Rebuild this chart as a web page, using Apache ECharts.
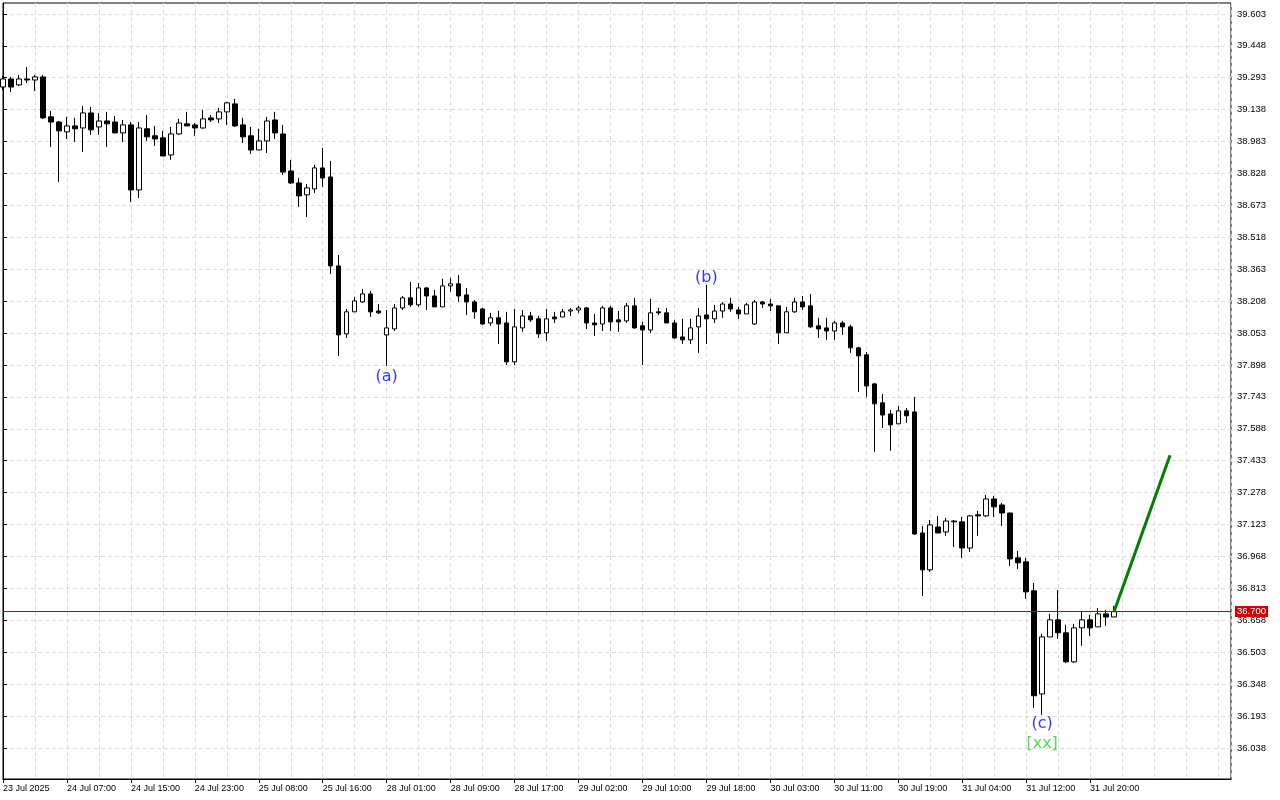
<!DOCTYPE html>
<html><head><meta charset="utf-8">
<script src="https://cdn.jsdelivr.net/npm/echarts@6/dist/echarts.min.js"></script>
<style>html,body{margin:0;padding:0;background:#fff}#c{width:1280px;height:800px}</style>
</head><body><div id="c"></div>
<script>
// ---- data (H1 candles, index 0 = 23 Jul 22:00) ----
const xTickLabels = ['23 Jul 2025','24 Jul 07:00','24 Jul 15:00','24 Jul 23:00','25 Jul 08:00','25 Jul 16:00',
  '28 Jul 01:00','28 Jul 09:00','28 Jul 17:00','29 Jul 02:00','29 Jul 10:00','29 Jul 18:00',
  '30 Jul 03:00','30 Jul 11:00','30 Jul 19:00','31 Jul 04:00','31 Jul 12:00','31 Jul 20:00'];
const yTickLabels = ['36.038','36.193','36.348','36.503','36.658','36.813','36.968','37.123','37.278','37.433',
  '37.588','37.743','37.898','38.053','38.208','38.363','38.518','38.673','38.828','38.983',
  '39.138','39.293','39.448','39.603'];
const opens = [
 39.248,39.287,39.258,39.287,39.282,39.297,39.103,39.078,39.030,39.059,
 39.049,39.122,39.054,39.083,39.078,39.025,39.064,38.748,39.045,39.011,
 39.001,38.918,39.020,39.069,39.064,39.049,39.098,39.093,39.127,39.166,
 39.064,39.011,38.942,38.986,39.088,39.020,38.840,38.782,38.724,38.753,
 38.855,38.811,38.379,38.049,38.156,38.204,38.243,38.160,38.044,38.073,
 38.175,38.224,38.190,38.272,38.233,38.180,38.282,38.292,38.238,38.204,
 38.170,38.102,38.127,38.102,37.913,38.078,38.136,38.122,38.054,38.131,
 38.131,38.160,38.165,38.175,38.102,38.097,38.175,38.117,38.112,38.185,
 38.088,38.068,38.156,38.151,38.102,38.034,38.020,38.083,38.141,38.122,
 38.160,38.194,38.165,38.146,38.097,38.204,38.194,38.185,38.054,38.156,
 38.204,38.185,38.088,38.078,38.063,38.102,38.083,37.981,37.947,37.806,
 37.714,37.660,37.612,37.675,37.670,37.082,36.903,37.111,37.087,37.140,
 37.136,37.009,37.170,37.165,37.247,37.218,37.179,36.961,36.942,36.801,
 36.300,36.577,36.660,36.597,36.456,36.621,36.660,36.626,36.689,36.674];
const closes = [
 39.287,39.248,39.287,39.282,39.297,39.098,39.078,39.035,39.059,39.045,
 39.122,39.040,39.083,39.069,39.025,39.064,38.748,39.049,39.006,38.996,
 38.913,39.020,39.073,39.059,39.049,39.093,39.088,39.127,39.171,39.059,
 39.006,38.942,38.986,39.083,39.025,38.835,38.782,38.719,38.758,38.855,
 38.806,38.379,38.044,38.156,38.209,38.243,38.156,38.151,38.078,38.175,
 38.224,38.190,38.272,38.233,38.180,38.282,38.292,38.233,38.204,38.156,
 38.097,38.127,38.097,37.913,38.083,38.136,38.117,38.049,38.122,38.122,
 38.156,38.165,38.175,38.102,38.093,38.175,38.107,38.107,38.185,38.078,
 38.068,38.151,38.151,38.102,38.029,38.020,38.078,38.136,38.122,38.160,
 38.194,38.170,38.146,38.190,38.204,38.194,38.185,38.054,38.156,38.204,
 38.180,38.083,38.073,38.063,38.102,38.083,37.981,37.942,37.796,37.709,
 37.655,37.607,37.675,37.651,37.077,36.903,37.121,37.082,37.140,37.136,
 37.009,37.165,37.165,37.247,37.209,37.179,36.956,36.937,36.796,36.291,
 36.577,36.660,36.597,36.456,36.621,36.660,36.621,36.689,36.674,36.700];
const lows = [
 39.234,39.224,39.253,39.268,39.229,39.093,38.957,38.787,38.996,38.981,
 38.933,39.015,39.015,38.957,39.025,38.981,38.690,38.709,38.986,38.962,
 38.913,38.894,39.015,39.059,39.011,39.045,39.078,39.073,39.064,39.054,
 38.976,38.923,38.942,38.928,38.996,38.821,38.777,38.666,38.617,38.734,
 38.763,38.340,37.942,38.029,38.156,38.199,38.131,38.146,37.893,38.063,
 38.165,38.180,38.180,38.165,38.180,38.180,38.253,38.204,38.141,38.122,
 38.093,38.088,38.000,37.898,37.898,38.059,38.107,38.029,38.015,38.102,
 38.131,38.136,38.151,38.073,38.039,38.063,38.063,38.059,38.102,38.073,
 37.898,38.054,38.141,38.102,38.025,38.000,38.000,37.957,38.000,38.102,
 38.127,38.156,38.122,38.146,38.093,38.175,38.160,38.000,38.054,38.151,
 38.165,38.078,38.029,38.020,38.020,38.044,37.957,37.767,37.743,37.476,
 37.592,37.481,37.612,37.617,37.073,36.776,36.893,37.082,37.068,37.014,
 36.961,36.990,37.068,37.160,37.160,37.116,36.922,36.907,36.762,36.232,
 36.198,36.577,36.567,36.451,36.451,36.534,36.582,36.626,36.631,36.674];
const highs = [
 39.302,39.297,39.307,39.345,39.307,39.307,39.132,39.083,39.103,39.098,
 39.156,39.151,39.122,39.127,39.107,39.088,39.078,39.078,39.112,39.059,
 39.035,39.054,39.093,39.127,39.073,39.137,39.112,39.146,39.176,39.190,
 39.098,39.054,39.045,39.103,39.127,39.064,38.894,38.806,38.777,38.870,
 38.952,38.889,38.432,38.170,38.229,38.267,38.258,38.194,38.165,38.194,
 38.233,38.301,38.296,38.277,38.262,38.316,38.321,38.335,38.272,38.214,
 38.175,38.151,38.161,38.156,38.170,38.165,38.156,38.136,38.170,38.156,
 38.170,38.175,38.185,38.180,38.146,38.185,38.185,38.160,38.199,38.224,
 38.107,38.219,38.175,38.175,38.117,38.122,38.122,38.175,38.287,38.190,
 38.204,38.224,38.180,38.199,38.214,38.209,38.219,38.185,38.180,38.224,
 38.233,38.243,38.127,38.127,38.112,38.112,38.093,37.986,37.961,37.811,
 37.757,37.680,37.699,37.689,37.743,37.116,37.145,37.165,37.155,37.145,
 37.160,37.170,37.189,37.267,37.262,37.228,37.179,36.995,36.961,36.839,
 36.592,36.689,36.805,36.636,36.640,36.703,36.684,36.718,36.708,36.728];
const lastPrice = 36.700;
const projX = [139, 146];
const projY = [36.700, 37.460];
const waveText = ['(a)', '(b)', '(c)', '[xx]'];
const waveIndex = [48, 88, 130, 130];
const waveSide = ['low', 'high', 'low', 'low'];

// ---- build ----
const FONT = 'Liberation Sans';
const candleData = opens.map((o, i) => [i, o, closes[i], lows[i], highs[i]]);
const xTickValues = xTickLabels.map((_, k) => k * 8);
const yTickValues = yTickLabels.map(Number);
const waveStyles = [
  {color: '#0000ff', position: 'bottom', distance: 2},
  {color: '#0000ff', position: 'top', distance: -1},
  {color: '#0000ff', position: 'bottom', distance: 0},
  {color: '#32cd32', position: 'bottom', distance: 20}
];
const waveData = waveText.map((t, k) => {
  const i = waveIndex[k];
  const p = waveSide[k] === 'low' ? lows[i] : highs[i];
  return {
    value: [i, p],
    label: Object.assign({show: true, formatter: t, fontFamily: 'DejaVu Sans', fontSize: 16}, waveStyles[k])
  };
});

const chart = echarts.init(document.getElementById('c'), null, {renderer: 'canvas'});
chart.setOption({
  animation: false,
  backgroundColor: '#fff',
  grid: {left: 2, right: 49, top: 3, bottom: 21, show: true, borderColor: '#000', borderWidth: 1, backgroundColor: '#fff'},
  xAxis: [
    {type: 'value', min: 0, max: 153.625, interval: 4,
     axisLine: {show: true, lineStyle: {color: '#000'}}, axisTick: {show: false}, axisLabel: {show: false},
     splitLine: {show: true, lineStyle: {color: '#dcdcdc', type: [4, 3], width: 1}}},
    {type: 'value', min: 0, max: 153.625, position: 'bottom',
     axisLine: {show: false},
     axisTick: {show: true, length: 4, lineStyle: {color: '#000'}, customValues: xTickValues},
     axisLabel: {show: true, customValues: xTickValues, align: 'left', margin: 5, color: '#000',
       fontFamily: FONT, fontSize: 9, formatter: v => xTickLabels[Math.round(v / 8)] || ''},
     splitLine: {show: false}}
  ],
  yAxis: {
    type: 'value', position: 'right', min: 35.887, max: 39.656, scale: true,
    axisLine: {show: true, lineStyle: {color: '#000', width: 1}},
    axisTick: {show: true, length: 4, lineStyle: {color: '#000'}, customValues: yTickValues},
    axisLabel: {show: true, customValues: yTickValues, margin: 6, color: '#000', fontFamily: FONT, fontSize: 9.5,
      formatter: v => { const k = yTickValues.findIndex(t => Math.abs(t - v) < 1e-6); return k >= 0 ? yTickLabels[k] : ''; }},
    splitLine: {show: true, lineStyle: {color: '#dcdcdc', type: [4, 3], width: 1}}
  },
  series: [
    {
      type: 'candlestick', xAxisIndex: 0, yAxisIndex: 0, barWidth: 5,
      data: candleData, encode: {x: 0, y: [1, 2, 3, 4]},
      itemStyle: {color: '#ffffff', color0: '#000000', borderColor: '#000000', borderColor0: '#000000', borderWidth: 1},
      markLine: {
        silent: true, symbol: ['none', 'none'], animation: false,
        lineStyle: {color: '#9b1010', type: 'solid', width: 1},
        label: {show: true, position: 'end', distance: 4, formatter: lastPrice.toFixed(3), color: '#fff',
          backgroundColor: '#d00000', padding: [1, 2, 0, 2], fontFamily: FONT, fontSize: 9.5},
        data: [{yAxis: lastPrice}]
      }
    },
    {
      type: 'line', xAxisIndex: 0, data: projX.map((x, k) => [x, projY[k]]),
      symbol: 'none', lineStyle: {color: '#008000', width: 3}, z: 5
    },
    {
      type: 'scatter', xAxisIndex: 0, symbol: 'rect', symbolSize: 1, data: waveData, z: 6,
      itemStyle: {color: 'rgba(0,0,0,0)'}, silent: true
    }
  ]
});
</script>
</body></html>
